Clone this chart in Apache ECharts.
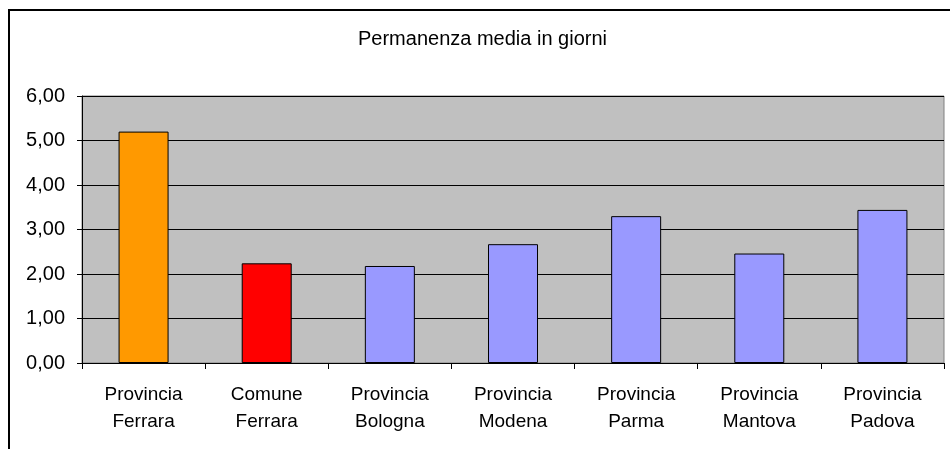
<!DOCTYPE html>
<html>
<head>
<meta charset="utf-8">
<script src="https://cdn.jsdelivr.net/npm/echarts@6/dist/echarts.min.js"></script>
<style>
    html, body { margin: 0; padding: 0; background: #fff; }
    #chart-box { width: 950px; height: 449px; }
</style>
</head>
<body>
<div id="chart-box"></div>
<script>
    // dati
    const categories = ['Provincia\nFerrara', 'Comune\nFerrara', 'Provincia\nBologna', 'Provincia\nModena',
        'Provincia\nParma', 'Provincia\nMantova', 'Provincia\nPadova'];
    const values = [5.20, 2.24, 2.18, 2.67, 3.30, 2.46, 3.44];
    const barColors = ['#FF9900', '#FF0000', '#9999FF', '#9999FF', '#9999FF', '#9999FF', '#9999FF'];
    const yTicks = [0, 6, 1];   // min, max, interval

    const font = 'Liberation Sans, Arial, sans-serif';

    let option = {
        animation: false,
        backgroundColor: '#fff',
        title: {
            text: 'Permanenza media in giorni',
            left: 358,
            top: 29,
            padding: 0,
            textStyle: {fontFamily: font, fontSize: 20, fontWeight: 'normal', color: '#000'}
        },
        graphic: [
            {
                type: 'rect',
                shape: {x: 9, y: 10, width: 1000, height: 500},
                style: {fill: 'none', stroke: '#000', lineWidth: 2}
            }
        ],
        grid: {
            left: 82, top: 96, width: 862, height: 267,
            show: true,
            backgroundColor: '#C0C0C0',
            borderColor: '#808080',
            borderWidth: 1
        },
        xAxis: {
            type: 'category',
            data: categories,
            axisLine: {lineStyle: {color: '#000', width: 1}},
            axisTick: {show: true, length: 6, lineStyle: {color: '#000'}},
            axisLabel: {
                fontFamily: font, fontSize: 19, color: '#000',
                lineHeight: 27, margin: 18, interval: 0
            }
        },
        yAxis: {
            type: 'value',
            min: yTicks[0],
            max: yTicks[1],
            interval: yTicks[2],
            axisLine: {show: true, lineStyle: {color: '#000', width: 1}},
            axisTick: {show: true, length: 5, lineStyle: {color: '#000'}},
            splitLine: {lineStyle: {color: '#000', width: 1}},
            axisLabel: {
                fontFamily: font, fontSize: 20, color: '#000', margin: 17,
                formatter: function (v) { return v.toFixed(2).replace('.', ','); }
            }
        },
        series: [
            {
                type: 'bar',
                barWidth: 50,
                data: values.map(function (v, i) {
                    return {
                        value: v,
                        itemStyle: {color: barColors[i], borderColor: '#000', borderWidth: 1}
                    };
                })
            }
        ]
    };

    let chart = echarts.init(document.getElementById('chart-box'));
    chart.setOption(option);
</script>
</body>
</html>
